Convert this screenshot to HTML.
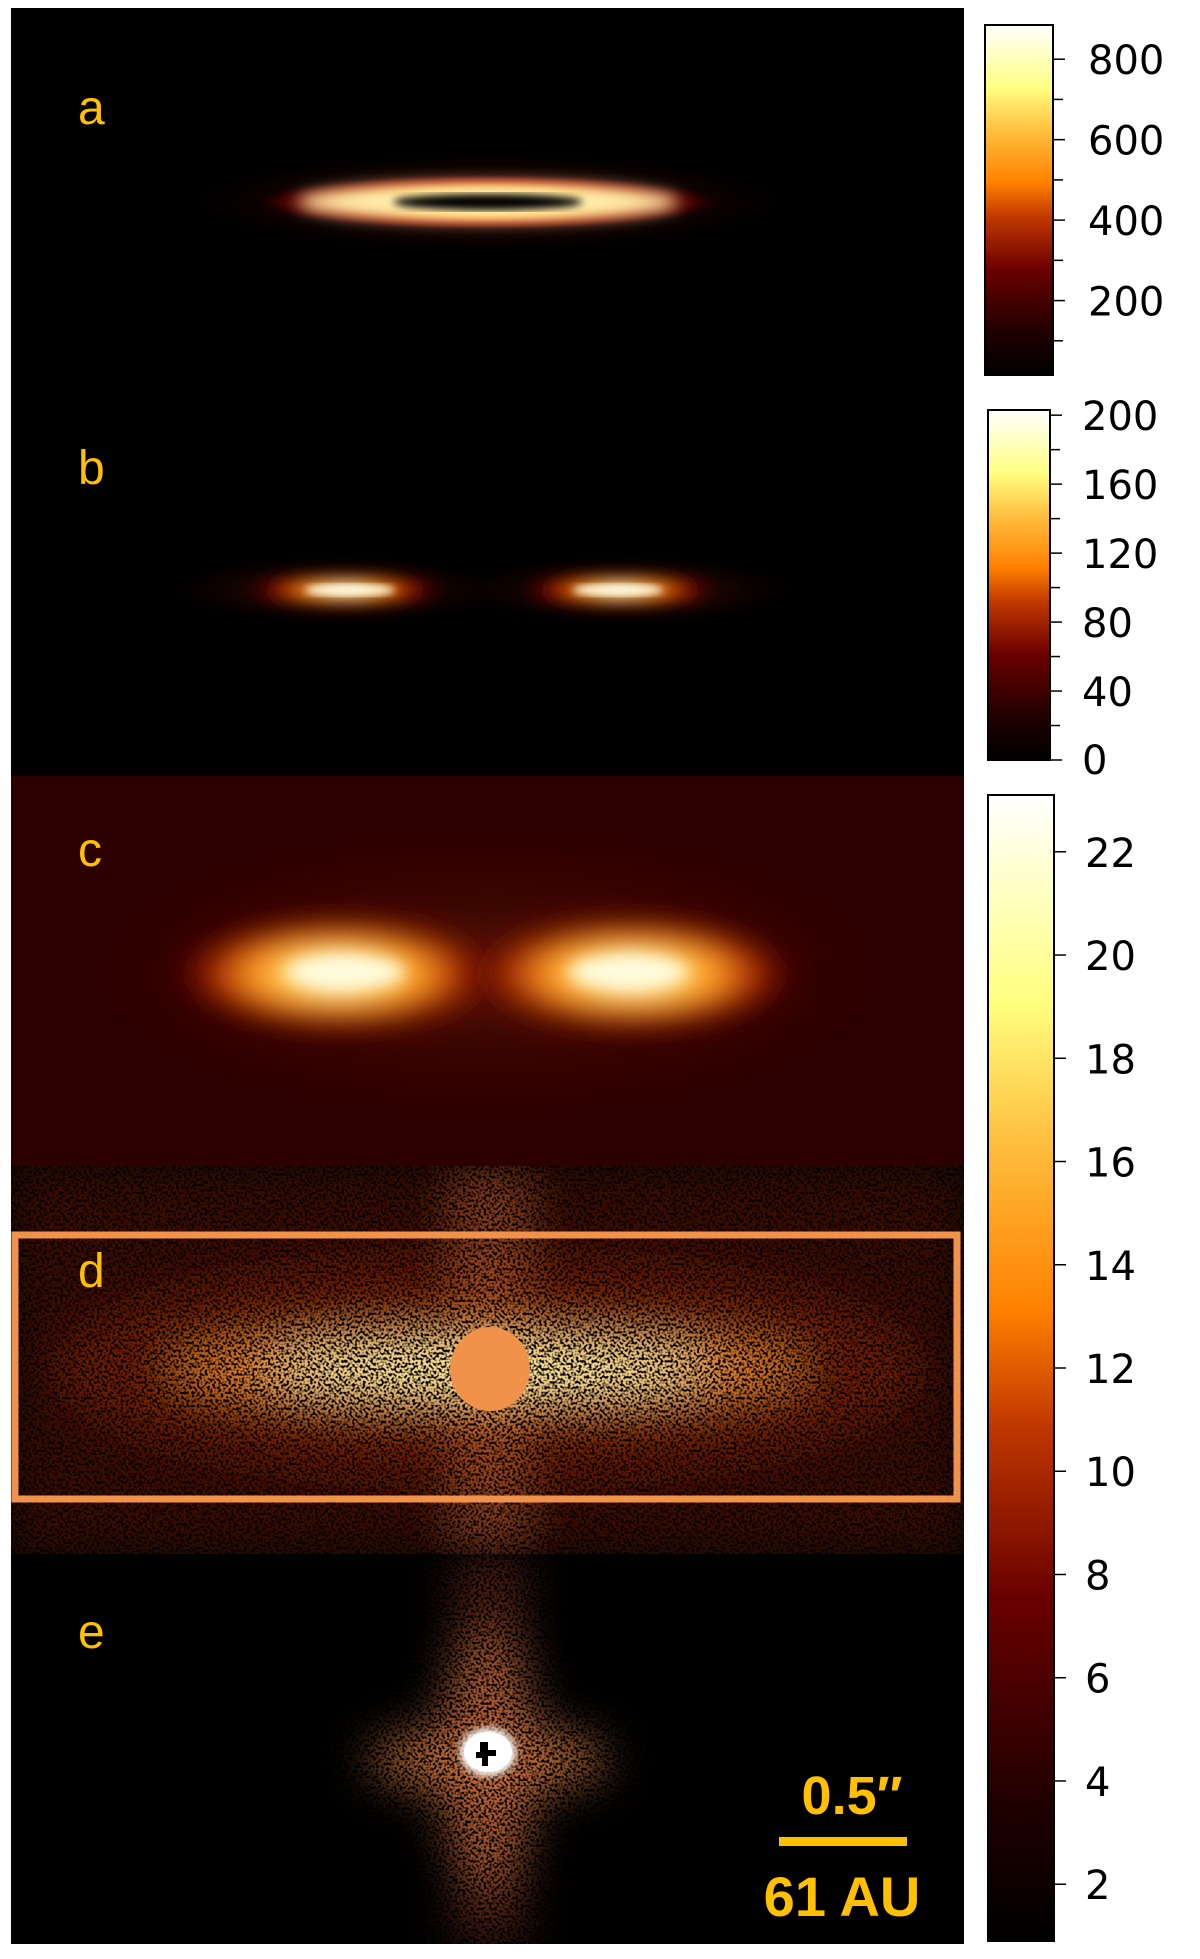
<!DOCTYPE html>
<html><head><meta charset="utf-8">
<style>
html,body{margin:0;padding:0;background:#fff;}
body{width:1200px;height:1959px;overflow:hidden;position:relative;font-family:"DejaVu Sans","Liberation Sans",sans-serif;}
svg{position:absolute;left:0;top:0;}
</style></head>
<body>
<svg id="fig" width="1200" height="1959" viewBox="0 0 1200 1959">
<defs>
  <linearGradient id="cmap" x1="0" y1="1" x2="0" y2="0">
    <stop offset="0" stop-color="#000"/>
    <stop offset="0.12" stop-color="#200000"/>
    <stop offset="0.3" stop-color="#6a0000"/>
    <stop offset="0.45" stop-color="#c03800"/>
    <stop offset="0.55" stop-color="#ff8000"/>
    <stop offset="0.7" stop-color="#ffc040"/>
    <stop offset="0.82" stop-color="#ffff80"/>
    <stop offset="1" stop-color="#ffffff"/>
  </linearGradient>
  <radialGradient id="glow">
    <stop offset="0" stop-color="#fffff0"/>
    <stop offset="0.22" stop-color="#ffe080"/>
    <stop offset="0.45" stop-color="#ff8a10"/>
    <stop offset="0.68" stop-color="#a01800"/>
    <stop offset="0.88" stop-color="#300000"/>
    <stop offset="1" stop-color="#000" stop-opacity="0"/>
  </radialGradient>
  <radialGradient id="glowC">
    <stop offset="0" stop-color="#fffff0"/>
    <stop offset="0.25" stop-color="#ffe070"/>
    <stop offset="0.5" stop-color="#ff9a20"/>
    <stop offset="0.75" stop-color="#a02000"/>
    <stop offset="1" stop-color="#500000" stop-opacity="0"/>
  </radialGradient>
  <radialGradient id="soft">
    <stop offset="0" stop-color="#ff9030" stop-opacity="0.9"/>
    <stop offset="0.5" stop-color="#a02000" stop-opacity="0.6"/>
    <stop offset="1" stop-color="#400000" stop-opacity="0"/>
  </radialGradient>
  <filter id="blur4"><feGaussianBlur stdDeviation="4"/></filter>
  <filter id="blur8" x="-0.3" y="-1" width="1.6" height="3"><feGaussianBlur stdDeviation="8"/></filter>
  <filter id="blur14" x="-0.3" y="-0.6" width="1.6" height="2.2"><feGaussianBlur stdDeviation="14"/></filter>
  <filter id="speck" x="0" y="0" width="1" height="1">
    <feGaussianBlur in="SourceGraphic" stdDeviation="22" result="b"/>
    <feTurbulence type="fractalNoise" baseFrequency="0.38" numOctaves="1" seed="7" result="n"/>
    <feColorMatrix in="n" type="matrix" values="0 0 0 0 0  0 0 0 0 0  0 0 0 0 0  5 0 0 0 -1.8" result="m"/>
    <feComposite in="b" in2="m" operator="in"/>
  </filter>
</defs>

<!-- panel a -->
<g>
  <rect x="11" y="8" width="953" height="382" fill="#000"/>
  <ellipse cx="488" cy="202" rx="300" ry="50" fill="url(#soft)" opacity="0.35"/>
  <ellipse cx="488" cy="202" rx="240" ry="30" fill="url(#glow)"/>
  <ellipse cx="488" cy="202" rx="190" ry="18" fill="#fff0b0" filter="url(#blur8)"/>
  <ellipse cx="488" cy="202" rx="95" ry="8" fill="#000" filter="url(#blur4)"/>
</g>
<!-- panel b -->
<g>
  <rect x="11" y="390" width="953" height="386" fill="#000"/>
  <ellipse cx="338" cy="590" rx="170" ry="36" fill="url(#soft)" opacity="0.3"/>
  <ellipse cx="627" cy="590" rx="170" ry="36" fill="url(#soft)" opacity="0.3"/>
  <ellipse cx="345" cy="590" rx="100" ry="15" fill="url(#glow)" filter="url(#blur8)"/>
  <ellipse cx="620" cy="590" rx="100" ry="15" fill="url(#glow)" filter="url(#blur8)"/>
  <ellipse cx="350" cy="590" rx="45" ry="6" fill="#fffbe0" filter="url(#blur4)"/>
  <ellipse cx="618" cy="590" rx="45" ry="6" fill="#fffbe0" filter="url(#blur4)"/>
</g>
<!-- panel c -->
<g>
  <rect x="11" y="776" width="953" height="390" fill="#2c0000"/>
  <ellipse cx="488" cy="972" rx="440" ry="160" fill="url(#soft)" opacity="0.2"/>
  <ellipse cx="338" cy="974" rx="170" ry="60" fill="url(#glowC)" filter="url(#blur14)"/>
  <ellipse cx="632" cy="974" rx="170" ry="60" fill="url(#glowC)" filter="url(#blur14)"/>
  <ellipse cx="345" cy="972" rx="60" ry="16" fill="#fffce0" filter="url(#blur8)"/>
  <ellipse cx="628" cy="972" rx="60" ry="16" fill="#fffce0" filter="url(#blur8)"/>
</g>
<!-- panel d -->
<g>
  <rect x="11" y="1166" width="953" height="388" fill="#080000"/>
  <g filter="url(#speck)">
    <rect x="11" y="1166" width="953" height="388" fill="#3a0800"/>
    <ellipse cx="488" cy="1369" rx="430" ry="110" fill="#902800" opacity="0.6"/>
    <rect x="455" y="1166" width="70" height="388" fill="#e08040" opacity="0.45"/>
    <ellipse cx="488" cy="1369" rx="320" ry="42" fill="#ff9a30" opacity="0.8"/>
    <ellipse cx="488" cy="1369" rx="220" ry="20" fill="#ffffb0"/>
  </g>
  <rect x="15" y="1235" width="942" height="264" fill="none" stroke="#f0924a" stroke-width="7"/>
  <ellipse cx="490" cy="1369" rx="40" ry="42" fill="#f0924a"/>
</g>
<!-- panel e -->
<g>
  <rect x="11" y="1554" width="953" height="390" fill="#000"/>
  <g filter="url(#speck)">
    <rect x="11" y="1554" width="953" height="390" fill="#000" opacity="0.01"/>
    <rect x="455" y="1554" width="70" height="390" fill="#a04020" opacity="0.5"/>
    <ellipse cx="488" cy="1760" rx="120" ry="35" fill="#e08040" opacity="0.8"/>
    <ellipse cx="488" cy="1760" rx="50" ry="130" fill="#d07040" opacity="0.7"/>
  </g>
  <ellipse cx="488" cy="1752" rx="28" ry="24" fill="#fff" filter="url(#blur4)"/>
  <ellipse cx="488" cy="1752" rx="24" ry="20" fill="#fff"/>
  <path d="M480 1742 h8 v8 h8 v6 h-8 v10 h-6 v-8 h-6 v-6 h4z" fill="#000"/>
</g>

<g font-family="Liberation Sans, sans-serif" font-size="48" fill="#ffc000">
  <text x="78" y="124">a</text>
  <text x="78" y="484">b</text>
  <text x="78" y="866">c</text>
  <text x="78" y="1287">d</text>
  <text x="78" y="1648">e</text>
</g>
<g fill="#ffc000" font-family="Liberation Sans, sans-serif" font-weight="bold">
  <text x="852" y="1814" font-size="54" text-anchor="middle">0.5″</text>
  <rect x="779" y="1837" width="128" height="9"/>
  <text x="842" y="1916" font-size="56" text-anchor="middle">61 AU</text>
</g>
<g id="cbars"></g>
</svg>
<script>
// colorbar data
const cb1Ticks = [800, 600, 400, 200];
const cb1Minor = [100, 300, 500, 700];
const cb1Range = [15, 885];
const cb2Ticks = [200, 160, 120, 80, 40, 0];
const cb2Minor = [20, 60, 100, 140, 180];
const cb2Range = [0, 203];
const cb3Ticks = [22, 20, 18, 16, 14, 12, 10, 8, 6, 4, 2];
const cb3Range = [0.9, 23.1];

const NS = 'http://www.w3.org/2000/svg';
const host = document.getElementById('cbars');
function mk(tag, attrs, parent){const e=document.createElementNS(NS,tag);for(const k in attrs)e.setAttribute(k,attrs[k]);parent.appendChild(e);return e;}

function colorbar(name, x, w, top, bot, range, ticks, minor, lx){
  const g = mk('g', {}, host);
  
  
  const y = v => bot - (v - range[0]) / (range[1] - range[0]) * (bot - top);
  const r = mk('rect', {x:x, y:top, width:w, height:bot-top, fill:'url(#cmap)', stroke:'#000', 'stroke-width':2}, g);
  
  
  ticks.forEach(v => {
    const ty = y(v);
    const t = mk('line', {x1:x+w, x2:x+w+12, y1:ty, y2:ty, stroke:'#000', 'stroke-width':1.5}, g);
    
    
    const lb = mk('text', {x:lx, y:Math.min(ty + 15, bot + 14), 'font-size':40, fill:'#000', 'font-family':'DejaVu Sans, sans-serif'}, g);
    lb.textContent = v;
    
    
  });
  minor.forEach(v => {
    const ty = y(v);
    const t = mk('line', {x1:x+w, x2:x+w+10, y1:ty, y2:ty, stroke:'#000', 'stroke-width':1.5}, g);
    
    
  });
}
colorbar('colorbar-a', 985, 68, 25, 375, cb1Range, cb1Ticks, cb1Minor, 1088);
colorbar('colorbar-b', 988, 62, 410, 760, cb2Range, cb2Ticks, cb2Minor, 1082);
colorbar('colorbar-cde', 988, 66, 795, 1941, cb3Range, cb3Ticks, [], 1085);
</script>
</body></html>
